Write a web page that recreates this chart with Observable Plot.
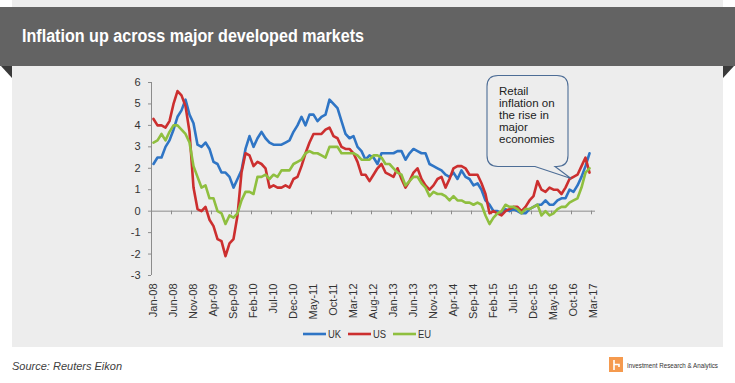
<!DOCTYPE html>
<html><head><meta charset="utf-8">
<script src="https://cdn.jsdelivr.net/npm/d3@7"></script>
<script src="https://cdn.jsdelivr.net/npm/@observablehq/plot@0.6"></script>
<style>
html,body{margin:0;padding:0;background:#fff;}
#wrap{position:relative;width:735px;height:383px;overflow:hidden;font-family:"Liberation Sans",Arial,sans-serif;}
#panel{position:absolute;left:12px;top:0;width:711px;height:347px;background:#ededed;}
#deco{position:absolute;left:0;top:0;}
#chart{position:absolute;left:12px;top:66px;}
</style></head>
<body>
<div id="wrap">
  <div id="panel"></div>
  <svg id="deco" width="735" height="383"></svg>
  <div id="chart"></div>
</div>
<script>
// ---- data (monthly, Jan-08 .. Feb-17), % y/y ----
const seriesNames = ["UK", "US", "EU"];
const seriesColors = ["#2f75c5", "#cc2f2f", "#8fbf3f"];
const tickLabels = ["Jan-08","Jun-08","Nov-08","Apr-09","Sep-09","Feb-10","Jul-10","Dec-10","May-11","Oct-11","Mar-12","Aug-12","Jan-13","Jun-13","Nov-13","Apr-14","Sep-14","Feb-15","Jul-15","Dec-15","May-16","Oct-16","Mar-17"];
const uk = [
  2.2, 2.5, 2.5, 3.0, 3.3, 3.8, 4.4, 4.7, 5.2, 4.5, 4.1, 3.1,
  3.0, 3.2, 2.9, 2.3, 2.2, 1.8, 1.8, 1.6, 1.1, 1.5, 1.9, 2.9,
  3.5, 3.0, 3.4, 3.7, 3.4, 3.2, 3.1, 3.1, 3.1, 3.2, 3.3, 3.7,
  4.0, 4.4, 4.0, 4.5, 4.5, 4.2, 4.4, 4.5, 5.2, 5.0, 4.8, 4.2,
  3.6, 3.4, 3.5, 3.0, 2.8, 2.4, 2.6, 2.5, 2.2, 2.7, 2.7, 2.7,
  2.7, 2.8, 2.8, 2.4, 2.7, 2.9, 2.8, 2.7, 2.7, 2.2, 2.1, 2.0,
  1.9, 1.7, 1.6, 1.8, 1.5, 1.9, 1.6, 1.5, 1.2, 1.3, 1.0, 0.5,
  0.3, 0.0, 0.0, -0.1, 0.1, 0.0, 0.1, 0.0, -0.1, -0.1, 0.1, 0.2,
  0.3, 0.3, 0.5, 0.3, 0.3, 0.5, 0.6, 0.6, 1.0, 0.9, 1.2, 1.6,
  2.1, 2.7
];
const us = [
  4.3, 4.0, 4.0, 3.9, 4.2, 5.0, 5.6, 5.4, 4.9, 3.7, 1.1, 0.1,
  0.0, 0.2, -0.4, -0.7, -1.3, -1.4, -2.1, -1.5, -1.3, -0.2, 1.8, 2.7,
  2.6, 2.1, 2.3, 2.2, 2.0, 1.1, 1.2, 1.1, 1.1, 1.2, 1.1, 1.5,
  1.6, 2.1, 2.7, 3.2, 3.6, 3.6, 3.6, 3.8, 3.9, 3.5, 3.4, 3.0,
  2.9, 2.9, 2.7, 2.3, 1.7, 1.7, 1.4, 1.7, 2.0, 2.2, 1.8, 1.7,
  1.6, 2.0, 1.5, 1.1, 1.4, 1.8, 2.0, 1.5, 1.2, 1.0, 1.2, 1.5,
  1.6, 1.1, 1.5, 2.0, 2.1, 2.1, 2.0, 1.7, 1.7, 1.7, 1.3, 0.8,
  -0.1, 0.0, -0.1, -0.2, 0.0, 0.1, 0.2, 0.2, 0.0, 0.2, 0.5, 0.7,
  1.4, 1.0, 0.9, 1.1, 1.0, 1.0, 0.8, 1.1, 1.5, 1.6, 1.7, 2.1,
  2.5, 1.8
];
const eu = [
  3.2, 3.3, 3.6, 3.3, 3.7, 4.0, 4.0, 3.8, 3.6, 3.2, 2.1, 1.6,
  1.1, 1.2, 0.6, 0.6, 0.0, -0.1, -0.6, -0.2, -0.3, -0.1, 0.5, 0.9,
  0.9, 0.8, 1.6, 1.6, 1.7, 1.5, 1.7, 1.6, 1.9, 1.9, 1.9, 2.2,
  2.3, 2.4, 2.7, 2.8, 2.7, 2.7, 2.6, 2.5, 3.0, 3.0, 3.0, 2.7,
  2.7, 2.7, 2.7, 2.6, 2.4, 2.4, 2.4, 2.6, 2.6, 2.5, 2.2, 2.2,
  2.0, 1.8, 1.7, 1.2, 1.4, 1.6, 1.6, 1.3, 1.1, 0.7, 0.9, 0.8,
  0.8, 0.7, 0.5, 0.7, 0.5, 0.5, 0.4, 0.4, 0.3, 0.4, 0.3, -0.2,
  -0.6, -0.3, -0.1, 0.0, 0.3, 0.2, 0.2, 0.1, -0.1, 0.1, 0.1, 0.2,
  0.3, -0.2, 0.0, -0.2, -0.1, 0.1, 0.2, 0.2, 0.4, 0.5, 0.6, 1.1,
  1.8, 2.0
];
const yTicks = [-3, -2, -1, 0, 1, 2, 3, 4, 5, 6];
const calloutLines = ["Retail", "inflation on", "the rise in", "major", "economies"];

// ---- build table ----
const rows = [];
[uk, us, eu].forEach((arr, k) => arr.forEach((v, i) => rows.push({i, v, s: seriesNames[k]})));
const nCat = tickLabels.length * 5 - 4; // 111 categories Jan-08..Mar-17
const tickIdx = tickLabels.map((_, k) => k * 5);
const boundaries = d3.range(-0.5, nCat - 1, 5);
const axisColor = "#8c8c8c";

const plot = Plot.plot({
  width: 711, height: 281,
  marginLeft: 139, marginRight: 128, marginTop: 16, marginBottom: 72,
  style: {background: "transparent", fontFamily: "'Liberation Sans', Arial, sans-serif", fontSize: "11px", color: "#333", overflow: "visible"},
  x: {domain: [-0.5, nCat - 0.5], axis: null},
  y: {domain: [-3, 6], axis: null},
  color: {domain: seriesNames, range: seriesColors},
  marks: [
    Plot.ruleX([-0.5], {y1: -3, y2: 6, stroke: axisColor}),
    Plot.axisY({ticks: yTicks, tickSize: 3, tickPadding: 8, stroke: axisColor, fill: "#333", label: null, tickFormat: d => String(d)}),
    Plot.ruleY([0], {x1: -0.5, x2: nCat - 0.5, stroke: axisColor}),
    Plot.ruleX(boundaries, {y1: 0, y2: -0.17, stroke: axisColor}),
    Plot.axisX({ticks: tickIdx, tickFormat: d => tickLabels[Math.round(d / 5)], tickRotate: -90, tickSize: 0, tickPadding: 8, fill: "#333", label: null}),
    Plot.line(rows, {x: "i", y: "v", z: "s", stroke: "s", strokeWidth: 2.6, strokeLinejoin: "round"})
  ]
});
document.getElementById("chart").appendChild(plot);

// ---- callout annotation, anchored in data space ----
const sx = plot.scale("x"), sy = plot.scale("y");
const tx = sx.apply(104.5), ty = sy.apply(1.5);
const L = tx - 84, R = tx - 3, T = ty - 103, B = ty - 12, r = 11;
const tl = tx - 36, tr = tx - 16;
const g = d3.select(plot).append("g");
g.append("path")
  .attr("d", `M${L + r},${T} H${R - r} Q${R},${T} ${R},${T + r} V${B - r} Q${R},${B} ${R - r},${B} H${tr} L${tx},${ty} L${tl},${B} H${L + r} Q${L},${B} ${L},${B - r} V${T + r} Q${L},${T} ${L + r},${T} Z`)
  .attr("fill", "#ededed").attr("stroke", "#4d6d96").attr("stroke-width", 1.1);
const offs = [-84, -72, -60, -47.5, -35.5];
calloutLines.forEach((t, k) => {
  g.append("text").attr("x", tx - 72).attr("y", ty + offs[k]).attr("fill", "#222")
    .attr("text-anchor", "start").style("text-anchor", "start")
    .attr("font-size", 11.5).attr("font-family", "'Liberation Sans', Arial, sans-serif").text(t);
});

// ---- decorations: banner, title, legend, source, logo ----
const deco = d3.select("#deco");
deco.append("rect").attr("x", 0).attr("y", 7).attr("width", 735).attr("height", 59).attr("fill", "#636363");
deco.append("polygon").attr("points", "1,66 12,66 12,78").attr("fill", "#3a3a3a");
deco.append("polygon").attr("points", "723,66 734,66 723,78").attr("fill", "#3a3a3a");
deco.append("text").attr("x", 22).attr("y", 41.5).attr("fill", "#fff")
  .attr("font-family", "'Liberation Sans', Arial, sans-serif").attr("font-weight", "bold")
  .attr("font-size", 17.5).attr("textLength", 342).attr("lengthAdjust", "spacingAndGlyphs")
  .text("Inflation up across major developed markets");

const legendX = [303, 348, 393];
seriesNames.forEach((n, k) => {
  deco.append("line").attr("x1", legendX[k]).attr("x2", legendX[k] + 23).attr("y1", 334).attr("y2", 334)
    .attr("stroke", seriesColors[k]).attr("stroke-width", 2.6);
  deco.append("g").attr("transform", `translate(${legendX[k] + 25},338) scale(0.82,1)`)
    .append("text").attr("fill", "#333")
    .attr("font-family", "'Liberation Sans', Arial, sans-serif").attr("font-size", 11.5)
    .text(n);
});

deco.append("text").attr("x", 12).attr("y", 370).attr("fill", "#404040")
  .attr("font-style", "italic").attr("font-size", 11).attr("font-family", "'Liberation Sans', Arial, sans-serif")
  .text("Source: Reuters Eikon");

deco.append("rect").attr("x", 609).attr("y", 357).attr("width", 14).attr("height", 15).attr("fill", "#f59a4e");
deco.append("path").attr("d", "M614 360 V370 M614 364.5 H619 V367").attr("stroke", "#fff").attr("stroke-width", 1.6).attr("fill", "none");
deco.append("g").attr("transform", "translate(627,368) scale(0.78,1)")
  .append("text").attr("fill", "#333")
  .attr("font-family", "'Liberation Sans', Arial, sans-serif").attr("font-size", 8)
  .text("Investment Research & Analytics");
</script>
</body></html>
